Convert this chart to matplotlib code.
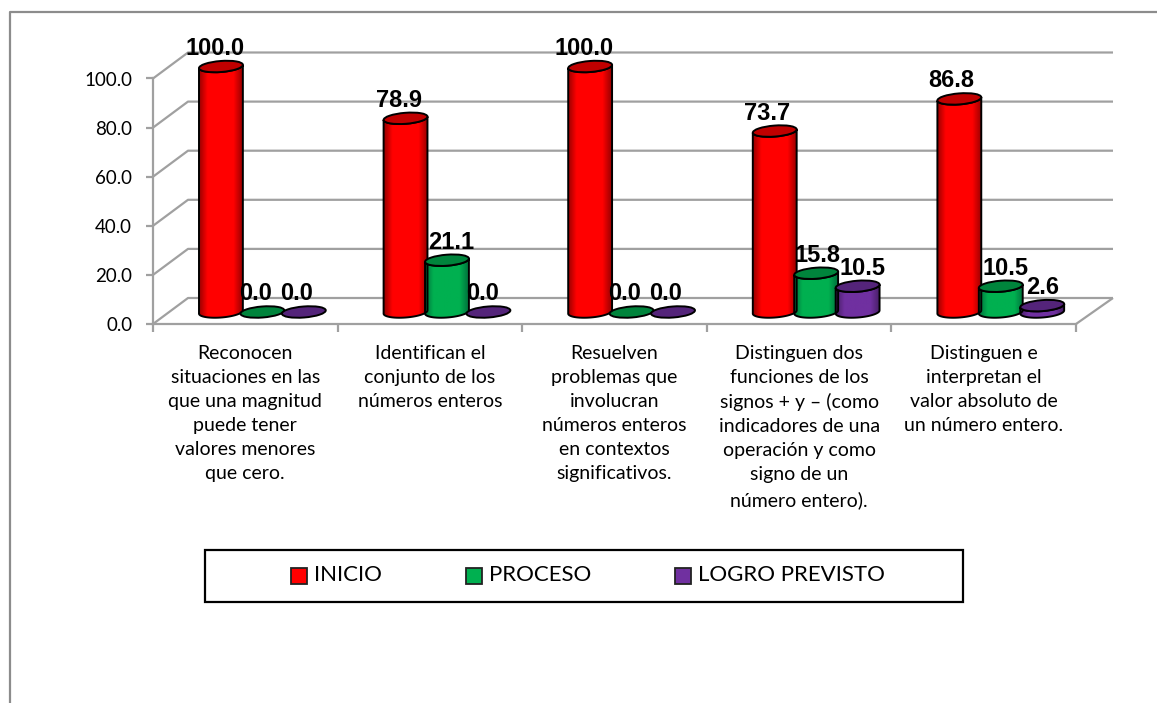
import matplotlib
matplotlib.use('Agg')
import matplotlib.pyplot as plt
import numpy as np
from matplotlib.colors import LinearSegmentedColormap
from matplotlib.lines import Line2D
from matplotlib.patches import Ellipse, PathPatch, Rectangle
from matplotlib.path import Path
from matplotlib.transforms import Affine2D, IdentityTransform

categories = [
    'Reconocen\nsituaciones en las\nque una magnitud\npuede tener\nvalores menores\nque cero.',
    'Identifican el\nconjunto de los\nnúmeros enteros',
    'Resuelven\nproblemas que\ninvolucran\nnúmeros enteros\nen contextos\nsignificativos.',
    'Distinguen dos\nfunciones de los\nsignos + y – (como\nindicadores de una\noperación y como\nsigno de un\nnúmero entero).',
    'Distinguen e\ninterpretan el\nvalor absoluto de\nun número entero.',
]
series_names = ['INICIO', 'PROCESO', 'LOGRO PREVISTO']
inicio = [100.0, 78.9, 100.0, 73.7, 86.8]
proceso = [0.0, 21.1, 0.0, 15.8, 10.5]
logro = [0.0, 0.0, 0.0, 10.5, 2.6]
series = [inicio, proceso, logro]
yticks = [0, 20, 40, 60, 80, 100]

# estilos
body_colors = ['#FF0000', '#00B050', '#7030A0']
dark_colors = ['#8E0000', '#00693A', '#431C60']
cap_colors = ['#C00000', '#00843C', '#54247A']
label_shift = [[-6, -7, -7], [-7, 4, -6], [-6, -7, -7], [-8, 1, 5], [-8, 5, 0]]
font = 'Lato'
grid = '#A0A0A0'

W, H = 1157, 703
fig = plt.figure(figsize=(W / 100, H / 100), dpi=100)
x0, x1, y0, y100 = 153, 1076, 324, 78.5
ax = fig.add_axes([x0 / W, 1 - y0 / H, (x1 - x0) / W, (y0 - y100) / H])
ax.set_xlim(0, 5)
ax.set_ylim(0, 100)
ax.patch.set_alpha(0)
for s in ['top', 'right']:
    ax.spines[s].set_visible(False)
for s in ['left', 'bottom']:
    ax.spines[s].set_color(grid)
    ax.spines[s].set_linewidth(1.6)

ax.set_yticks(yticks, ['%.1f' % v for v in yticks], fontsize=13.5, family=font)
ax.set_xticks(range(6), [''] * 6)
ax.set_xticks(np.arange(5) + 0.5, categories, minor=True, fontsize=14, family=font, linespacing=1.5)
ax.tick_params(axis='both', which='major', color=grid, width=1.6, length=5, pad=10)
ax.tick_params(axis='x', which='major', length=6, pad=3)
ax.tick_params(axis='x', which='minor', length=0, pad=15)


def line_px(xs, ys, color=grid, lw=1.6, z=1):
    ax.plot(xs, [H - v for v in ys], transform=IdentityTransform(), color=color,
            lw=lw, clip_on=False, zorder=z, solid_capstyle='butt')


# paredes 3D
depth_x, depth_y = 35, 26
for v in yticks:
    yy = H - ax.transData.transform((0, v))[1]
    line_px([x0, x0 + depth_x, 1113], [yy, yy - depth_y, yy - depth_y])
line_px([x1, 1113], [y0, y0 - depth_y])

# marco: solo izquierda y arriba
frame = '#8C8C8C'
fig.add_artist(Line2D([9.5 / W, 9.5 / W, 1], [0, 1 - 11.5 / H, 1 - 11.5 / H], color=frame, lw=1.6,
                      transform=fig.transFigure))

bar_w, ell_h, tilt = 44, 11, 4.5
base_gap = 12
step = 0.2245
start = 0.368


def cylinder(cx, ytop, ybot, k):
    t = Affine2D().rotate_deg(tilt)
    a, b = bar_w / 2, ell_h / 2
    ang = np.linspace(np.pi, 2 * np.pi, 40)
    low = np.c_[a * np.cos(ang), b * np.sin(ang)]
    low = t.transform(low) + [cx, H - ybot]
    up = np.c_[a * np.cos(ang[::-1]), b * np.sin(ang[::-1])]
    up = t.transform(up) + [cx, H - ytop]
    verts = np.r_[low, up, low[:1]]
    codes = [Path.MOVETO] + [Path.LINETO] * (len(verts) - 2) + [Path.CLOSEPOLY]
    if ybot - ytop > 0.5:
        patch = PathPatch(Path(verts, codes), transform=IdentityTransform(), facecolor='none',
                          edgecolor='black', lw=1.4, zorder=5, clip_on=False)
        cmap = LinearSegmentedColormap.from_list('c', [(0, dark_colors[k]), (0.2, body_colors[k]),
                                                       (0.78, body_colors[k]), (1, dark_colors[k])])
        inv = ax.transData.inverted()
        (dx0, dy0), (dx1, dy1) = inv.transform([(cx - a - 1, H - ybot - 12), (cx + a + 1, H - ytop + 12)])
        im = ax.imshow(np.linspace(0, 1, 64)[None, :], cmap=cmap, extent=[dx0, dx1, dy0, dy1],
                       aspect='auto', zorder=4)
        ax.add_patch(patch)
        im.set_clip_box(fig.bbox)
        im.set_clip_path(patch)
        ax.set_xlim(0, 5)
        ax.set_ylim(0, 100)
    cap = Ellipse((cx, H - ytop), bar_w, ell_h, angle=tilt, transform=IdentityTransform(),
                  facecolor=cap_colors[k], edgecolor='black', lw=1.4, zorder=6, clip_on=False)
    ax.add_patch(cap)


for k, vals in enumerate(series):
    for i, v in enumerate(vals):
        bx, by = ax.transData.transform((i + start + k * step, v))
        by0 = ax.transData.transform((i + start + k * step, 0))[1]
        ytop = H - by - base_gap
        ybot = H - by0 - base_gap
        cylinder(bx, ytop, ybot, k)
        ax.text(bx + label_shift[i][k], H - ytop + 18, '%.1f' % v, transform=IdentityTransform(),
                ha='center', va='center', fontsize=17, fontweight='bold',
                family='Liberation Sans', zorder=8, clip_on=False)

# leyenda
fig.add_artist(Rectangle((205 / W, 1 - 602 / H), (963 - 205) / W, 52 / H, facecolor='white',
                         edgecolor='black', lw=1.6, transform=fig.transFigure))
for name, color, lx in zip(series_names, body_colors, [291, 466, 675]):
    fig.add_artist(Rectangle((lx / W, 1 - 584 / H), 16 / W, 16 / H, facecolor=color, edgecolor='#222222',
                             lw=1.3, transform=fig.transFigure))
    fig.text((lx + 23) / W, 1 - 575 / H, name, fontsize=16, family=font, ha='left', va='center')

fig.savefig('out.png', dpi=100)
